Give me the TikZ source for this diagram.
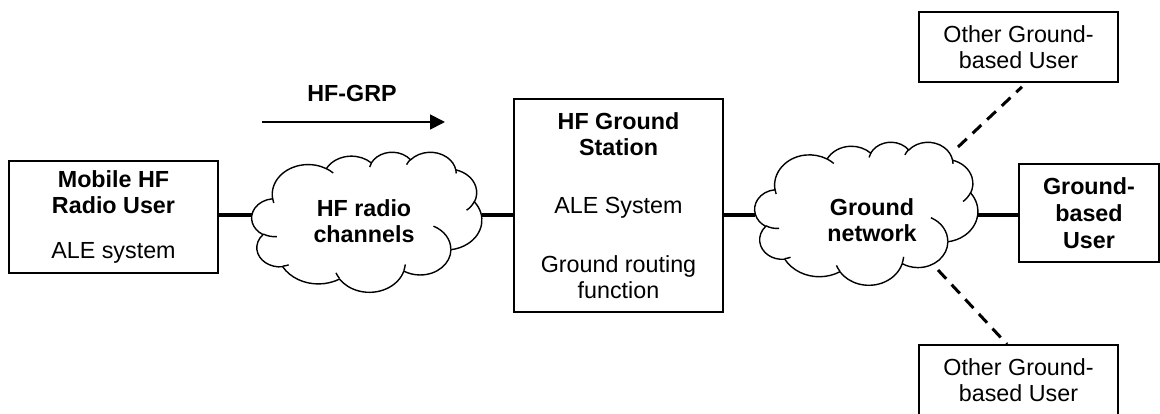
\documentclass[tikz,border=0pt]{standalone}
\usepackage{fontspec}
\setmainfont{Liberation Sans}
\usetikzlibrary{arrows.meta}
% elliptical arc given as in DrawingML (visual start angle, sweep)
\newcommand\CA[4]{arc[start angle={atan2((#1)*sin(#3),(#2)*cos(#3))}, delta angle={Mod(atan2((#1)*sin((#3)+(#4)),(#2)*cos((#3)+(#4)))-atan2((#1)*sin(#3),(#2)*cos(#3)),360)}, x radius=#1, y radius=#2]}
\newcommand\CloudShape{%
  \draw[cloudline] (390,1437)
    \CA{675.3}{919.0}{-190.48748}{123.78053}
    \CA{533.3}{726.7}{-144.10238}{89.94523}
    \CA{436.5}{594.5}{-145.80792}{99.72302}
    \CA{485.7}{659.5}{-130.98607}{117.24173}
    \CA{533.3}{727.3}{-78.70888}{109.02692}
    \CA{677.5}{922.0}{-46.26725}{130.26900}
    \CA{578.5}{786.7}{0.62502}{114.03333}
    \CA{675.2}{921.5}{22.45160}{115.17255}
    \CA{772.0}{1054.3}{66.24263}{75.71102}
    \CA{436.0}{591.8}{-274.94208}{146.73557}
    \CA{434.5}{594.5}{-246.82850}{152.51885} -- cycle;
  \draw[cloudline]
    (469.3,2617.7) \CA{434.5}{594.5}{86.74200}{26.42950}
    (692.8,3489.9) \CA{436.0}{591.8}{73.61047}{11.44747}
    (1647.8,3909.0) \CA{675.2}{921.5}{137.62415}{14.08110}
    (2882.7,3475.1) \CA{675.2}{921.5}{6.45327}{15.99835}
    (3412.9,2295.4) \CA{578.5}{786.7}{-70.29235}{70.91737}
    (4179.8,1535.4) \CA{533.3}{727.3}{30.31803}{27.75150}
    (3832.4,542.6) \CA{485.7}{659.5}{-13.74433}{14.85890}
    (2907.8,395.2) \CA{485.7}{659.5}{-149.18145}{18.19537}
    (2214.1,472.0) \CA{436.5}{594.5}{-163.49427}{17.68635}
    (1400.0,519.2) \CA{675.3}{919.0}{-66.70695}{12.31935}
    (412.7,1578.9) \CA{675.3}{919.0}{157.65435}{11.85817};
}
\begin{document}
\begin{tikzpicture}[x=1pt,y=-1pt,
  txt/.style={inner sep=0pt, align=center, font=\fontsize{23.3}{26}\selectfont},
  box/.style={txt, draw, line width=1.6pt},
  cloudarea/.style={inner sep=0pt, draw=none},
  conn/.style={line width=4pt},
  dashconn/.style={line width=3pt, dash pattern=on 12pt off 8pt},
  cloudline/.style={line width=1.4pt, line join=round},
  flow/.style={line width=1.8pt, -{Triangle[length=15pt,width=15pt]}}]
\useasboundingbox (0,0) rectangle (1160,414);
\coordinate (axis) at (0,215);
% boxes
\node[box, minimum width=209pt, minimum height=112pt] (mob) at (113.5,217)
  {\textbf{Mobile HF}\\\textbf{Radio User}\\[19pt]ALE system};
\node[box, minimum width=209pt, minimum height=213pt] (st) at (618.5,205.5)
  {\textbf{HF Ground}\\\textbf{Station}\\[32pt]ALE System\\[33pt]Ground routing\\function};
\node[box, minimum width=140pt, minimum height=98pt] (gbu) at (1089,213)
  {\textbf{Ground-}\\[1pt]\textbf{based}\\[1pt]\textbf{User}};
\node[box, minimum width=199pt, minimum height=70pt] (ot) at (1018.5,47)
  {Other Ground-\\based User};
\node[box, minimum width=199pt, minimum height=70pt] (ob) at (1018.5,380)
  {Other Ground-\\based User};
% clouds
\node[cloudarea, minimum width=230pt, minimum height=140pt] (c1) at (367,222) {};
\node[cloudarea, minimum width=223pt, minimum height=143pt] (c2) at (866.5,213.5) {};
\begin{scope}[shift={(c1.north west)}, x=0.053241pt, y=-0.032407pt]
  \CloudShape
\end{scope}
\begin{scope}[shift={(c2.north west)}, x=0.051620pt, y=-0.033102pt]
  \CloudShape
\end{scope}
\node[txt] (c1t) at (364,221) {\textbf{HF radio}\\\textbf{channels}};
\node[txt] (c2t) at (872,220) {\textbf{Ground}\\\textbf{network}};
% HF-GRP arrow
\node[txt] (grp) at (352,93) {\textbf{HF-GRP}};
\coordinate (ga) at (262,122);
\coordinate (gb) at (445,122);
\draw[flow] (ga) -- (gb);
% connectors
\draw[conn] (mob.east |- axis) -- (c1.west |- axis);
\draw[conn] (c1.east |- axis) -- (st.west |- axis);
\draw[conn] (st.east |- axis) -- (c2.west |- axis);
\draw[conn] (c2.east |- axis) -- (gbu.west |- axis);
\coordinate (d1) at (958,147);
\coordinate (d2) at (938,270);
\draw[dashconn] (d1) -- ([xshift=3.5pt,yshift=-4pt]ot.south);
\draw[dashconn] (d2) -- ([xshift=-11.5pt]ob.north);
\end{tikzpicture}
\end{document}
